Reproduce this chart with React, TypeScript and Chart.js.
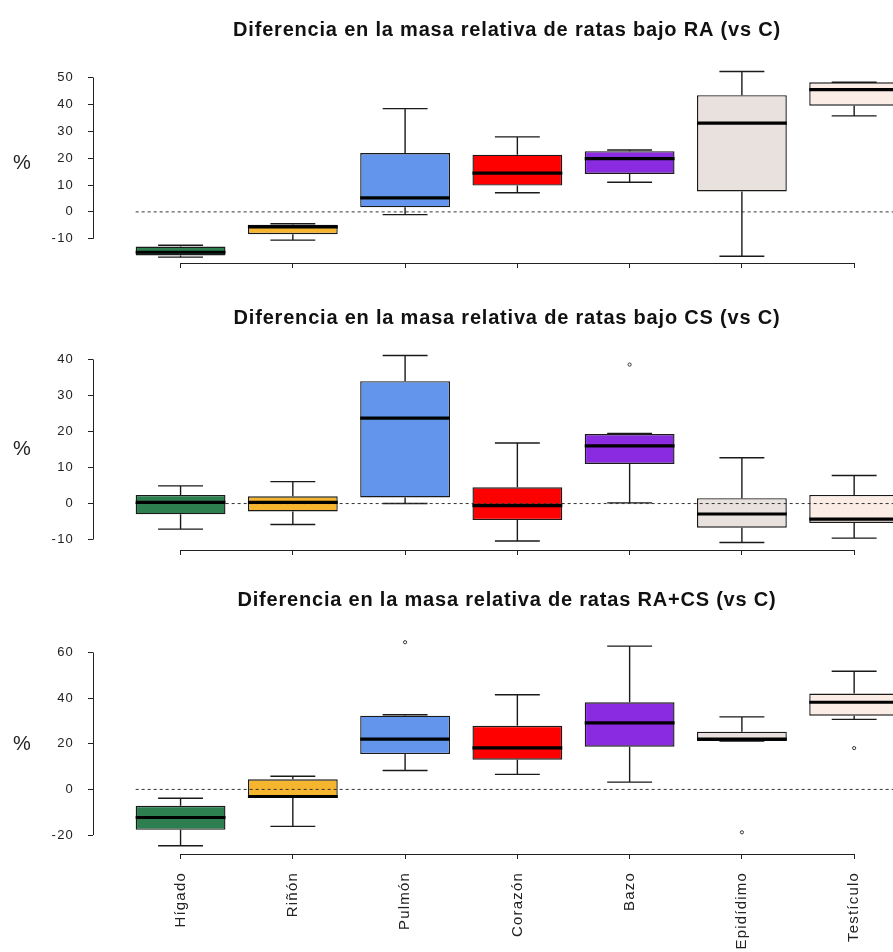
import React, { useEffect, useRef } from 'react';
import { Chart, registerables } from 'chart.js';

Chart.register(...registerables);

const FONT = '"Liberation Sans", Arial, Helvetica, sans-serif';

const categories = ['Hígado', 'Riñón', 'Pulmón', 'Corazón', 'Bazo', 'Epidídimo', 'Testículo'];
const boxColors = ['#2E7F50', '#F5B52E', '#6495ED', '#FF0000', '#8A2BE2', '#E9E1DD', '#FBECE6'];

// Panel 1: RA (vs C)
const raTitle = 'Diferencia en la masa relativa de ratas bajo RA (vs C)';
const raLow = [-16.8, -10.5, -1.0, 7.1, 11.0, -16.5, 35.7];
const raQ1 = [-16.2, -8.3, 1.7, 9.8, 14.1, 7.6, 39.5];
const raMed = [-15.0, -5.6, 5.2, 14.4, 19.8, 33.0, 45.5];
const raQ3 = [-12.9, -4.8, 21.9, 21.3, 22.6, 43.4, 48.2];
const raHigh = [-12.4, -4.4, 38.4, 27.9, 23.0, 52.2, 48.2];
const raOutX: number[] = [];
const raOutY: number[] = [];
const raTicks = [-10, 0, 10, 20, 30, 40, 50];

// Panel 2: CS (vs C)
const csTitle = 'Diferencia en la masa relativa de ratas bajo CS (vs C)';
const csLow = [-7.1, -5.8, 0.0, -10.4, 0.2, -10.8, -9.6];
const csQ1 = [-3.0, -2.2, 1.7, -4.6, 11.0, -6.7, -5.4];
const csMed = [0.3, 0.3, 23.7, -0.6, 16.0, -2.9, -4.3];
const csQ3 = [2.4, 2.0, 34.0, 4.5, 19.3, 1.5, 2.4];
const csHigh = [4.9, 6.1, 41.1, 16.8, 19.5, 12.7, 7.8];
const csOutX = [4];
const csOutY = [38.6];
const csTicks = [-10, 0, 10, 20, 30, 40];

// Panel 3: RA+CS (vs C)
const rcTitle = 'Diferencia en la masa relativa de ratas RA+CS (vs C)';
const rcLow = [-24.7, -16.2, 8.3, 6.6, 3.2, 21.2, 30.7];
const rcQ1 = [-17.7, -3.8, 15.5, 13.0, 18.7, 21.2, 32.3];
const rcMed = [-12.3, -3.1, 22.0, 18.2, 29.2, 22.0, 38.2];
const rcQ3 = [-7.2, 4.4, 32.3, 27.9, 38.2, 25.3, 42.0];
const rcHigh = [-3.9, 5.8, 32.7, 41.5, 62.8, 31.8, 51.8];
const rcOutX = [2, 5, 6];
const rcOutY = [64.5, -18.8, 18.1];
const rcTicks = [-20, 0, 20, 40, 60];

const xMin = -0.78;
const xMax = 6.346;

type PanelCfg = {
  title: string;
  low: number[]; q1: number[]; med: number[]; q3: number[]; high: number[];
  outX: number[]; outY: number[];
  ticks: number[];
  yMin: number; yMax: number;
  top: number; height: number; areaTop: number; areaBottom: number; titleY: number;
  labels: boolean;
};

const panels: PanelCfg[] = [
  { title: raTitle, low: raLow, q1: raQ1, med: raMed, q3: raQ3, high: raHigh, outX: raOutX, outY: raOutY, ticks: raTicks,
    yMin: -19, yMax: 55, top: 0, height: 290, areaTop: 64, areaBottom: 263, titleY: 30, labels: false },
  { title: csTitle, low: csLow, q1: csQ1, med: csMed, q3: csQ3, high: csHigh, outX: csOutX, outY: csOutY, ticks: csTicks,
    yMin: -12.9, yMax: 43.2, top: 290, height: 285, areaTop: 58, areaBottom: 260, titleY: 28, labels: false },
  { title: rcTitle, low: rcLow, q1: rcQ1, med: rcMed, q3: rcQ3, high: rcHigh, outX: rcOutX, outY: rcOutY, ticks: rcTicks,
    yMin: -28.3, yMax: 68.1, top: 575, height: 377, areaTop: 59, areaBottom: 279, titleY: 25, labels: true },
];

function BoxPanel({ p }: { p: PanelCfg }) {
  const ref = useRef<HTMLCanvasElement>(null);
  useEffect(() => {
    const canvas = ref.current;
    if (!canvas) return;
    const extras = {
      id: 'boxExtras',
      beforeDraw(chart: any) {
        chart.ctx.letterSpacing = '1.2px';
      },
      afterDatasetsDraw(chart: any) {
        const { ctx, chartArea, scales } = chart;
        const xs = scales.x;
        const ys = scales.y;
        const meta = chart.getDatasetMeta(0);
        ctx.save();
        ctx.strokeStyle = '#1a1a1a';
        ctx.lineWidth = 1.4;
        meta.data.forEach((el: any, i: number) => {
          const x = el.x;
          const capHalf = el.width / 4;
          const yHigh = ys.getPixelForValue(p.high[i]);
          const yLow = ys.getPixelForValue(p.low[i]);
          ctx.beginPath();
          ctx.moveTo(x, ys.getPixelForValue(p.q3[i]));
          ctx.lineTo(x, yHigh);
          ctx.moveTo(x, ys.getPixelForValue(p.q1[i]));
          ctx.lineTo(x, yLow);
          ctx.moveTo(x - capHalf, yHigh);
          ctx.lineTo(x + capHalf, yHigh);
          ctx.moveTo(x - capHalf, yLow);
          ctx.lineTo(x + capHalf, yLow);
          ctx.stroke();
        });
        // zero reference line
        ctx.setLineDash([3, 3]);
        ctx.lineWidth = 1;
        ctx.strokeStyle = '#333';
        const y0 = ys.getPixelForValue(0);
        ctx.beginPath();
        ctx.moveTo(xs.getPixelForValue(-0.4), y0);
        ctx.lineTo(chartArea.right, y0);
        ctx.stroke();
        ctx.setLineDash([]);
        // medians
        ctx.lineWidth = 3.2;
        ctx.strokeStyle = '#000';
        meta.data.forEach((el: any, i: number) => {
          const y = ys.getPixelForValue(p.med[i]);
          ctx.beginPath();
          ctx.moveTo(el.x - el.width / 2, y);
          ctx.lineTo(el.x + el.width / 2, y);
          ctx.stroke();
        });
        ctx.restore();
      },
      afterDraw(chart: any) {
        const { ctx, chartArea, scales } = chart;
        const xs = scales.x;
        const ys = scales.y;
        ctx.save();
        ctx.strokeStyle = '#222';
        ctx.lineWidth = 1;
        const lx = Math.round(chartArea.left) + 0.5;
        const by = Math.round(chartArea.bottom) + 0.5;
        ctx.beginPath();
        ctx.moveTo(lx, ys.getPixelForValue(p.ticks[0]));
        ctx.lineTo(lx, ys.getPixelForValue(p.ticks[p.ticks.length - 1]));
        ctx.moveTo(xs.getPixelForValue(0), by);
        ctx.lineTo(xs.getPixelForValue(categories.length - 1), by);
        ctx.stroke();
        ctx.fillStyle = '#111';
        ctx.textAlign = 'center';
        ctx.textBaseline = 'middle';
        ctx.letterSpacing = '0.8px';
        ctx.font = `bold 20px ${FONT}`;
        ctx.fillText(p.title, 507, p.titleY);
        ctx.letterSpacing = '0px';
        ctx.font = `20px ${FONT}`;
        ctx.fillStyle = '#222';
        ctx.fillText('%', 22, (chartArea.top + chartArea.bottom) / 2);
        ctx.restore();
      },
    };

    const chart = new Chart(canvas, {
      type: 'bar',
      data: {
        datasets: [
          {
            type: 'bar',
            data: categories.map((_, i) => ({ x: i, y: [p.q1[i], p.q3[i]] })) as any,
            backgroundColor: boxColors,
            borderColor: '#1a1a1a',
            borderWidth: 1.4,
            borderSkipped: false,
            barPercentage: 0.8,
            categoryPercentage: 1,
          } as any,
          {
            type: 'scatter',
            data: p.outX.map((x, i) => ({ x, y: p.outY[i] })),
            pointStyle: 'circle',
            radius: 1.6,
            hoverRadius: 1.6,
            borderColor: '#333',
            backgroundColor: 'rgba(0,0,0,0)',
            borderWidth: 1,
          } as any,
        ],
      },
      options: {
        responsive: false,
        maintainAspectRatio: false,
        animation: false,
        devicePixelRatio: 1,
        events: [],
        layout: { autoPadding: false, padding: { top: p.areaTop, left: 0, right: 0, bottom: 0 } },
        plugins: {
          legend: { display: false },
          title: { display: false },
          tooltip: { enabled: false },
        },
        scales: {
          x: {
            type: 'linear',
            min: xMin,
            max: xMax,
            offset: false,
            afterBuildTicks: (s: any) => {
              s.ticks = categories.map((_, i) => ({ value: i }));
            },
            afterFit: (s: any) => {
              s.height = p.height - p.areaBottom;
            },
            grid: { display: true, drawOnChartArea: false, drawTicks: true, tickLength: 5, tickColor: '#222', offset: false },
            border: { display: false },
            ticks: {
              display: p.labels,
              autoSkip: false,
              minRotation: 90,
              maxRotation: 90,
              padding: 13,
              color: '#222',
              font: { family: FONT, size: 15 },
              callback: (v: any) => categories[Math.round(Number(v))] ?? '',
            },
          },
          y: {
            type: 'linear',
            min: p.yMin,
            max: p.yMax,
            afterBuildTicks: (s: any) => {
              s.ticks = p.ticks.map((v) => ({ value: v }));
            },
            afterFit: (s: any) => {
              s.width = 93;
            },
            grid: { display: true, drawOnChartArea: false, drawTicks: true, tickLength: 5, tickColor: '#222' },
            border: { display: false },
            ticks: {
              autoSkip: false,
              padding: 14,
              color: '#222',
              font: { family: FONT, size: 13 },
              callback: (v: any) => String(v),
            },
          },
        },
      } as any,
      plugins: [extras],
    });
    return () => chart.destroy();
  }, [p]);
  return (
    <canvas
      ref={ref}
      width={893}
      height={p.height}
      style={{ position: 'absolute', left: 0, top: p.top, width: 893, height: p.height, display: 'block' }}
    />
  );
}

export default function App() {
  return (
    <div style={{ position: 'absolute', left: 0, top: 0, width: 893, height: 952, overflow: 'hidden', background: '#fff' }}>
      {panels.map((p, i) => (
        <BoxPanel key={i} p={p} />
      ))}
    </div>
  );
}
